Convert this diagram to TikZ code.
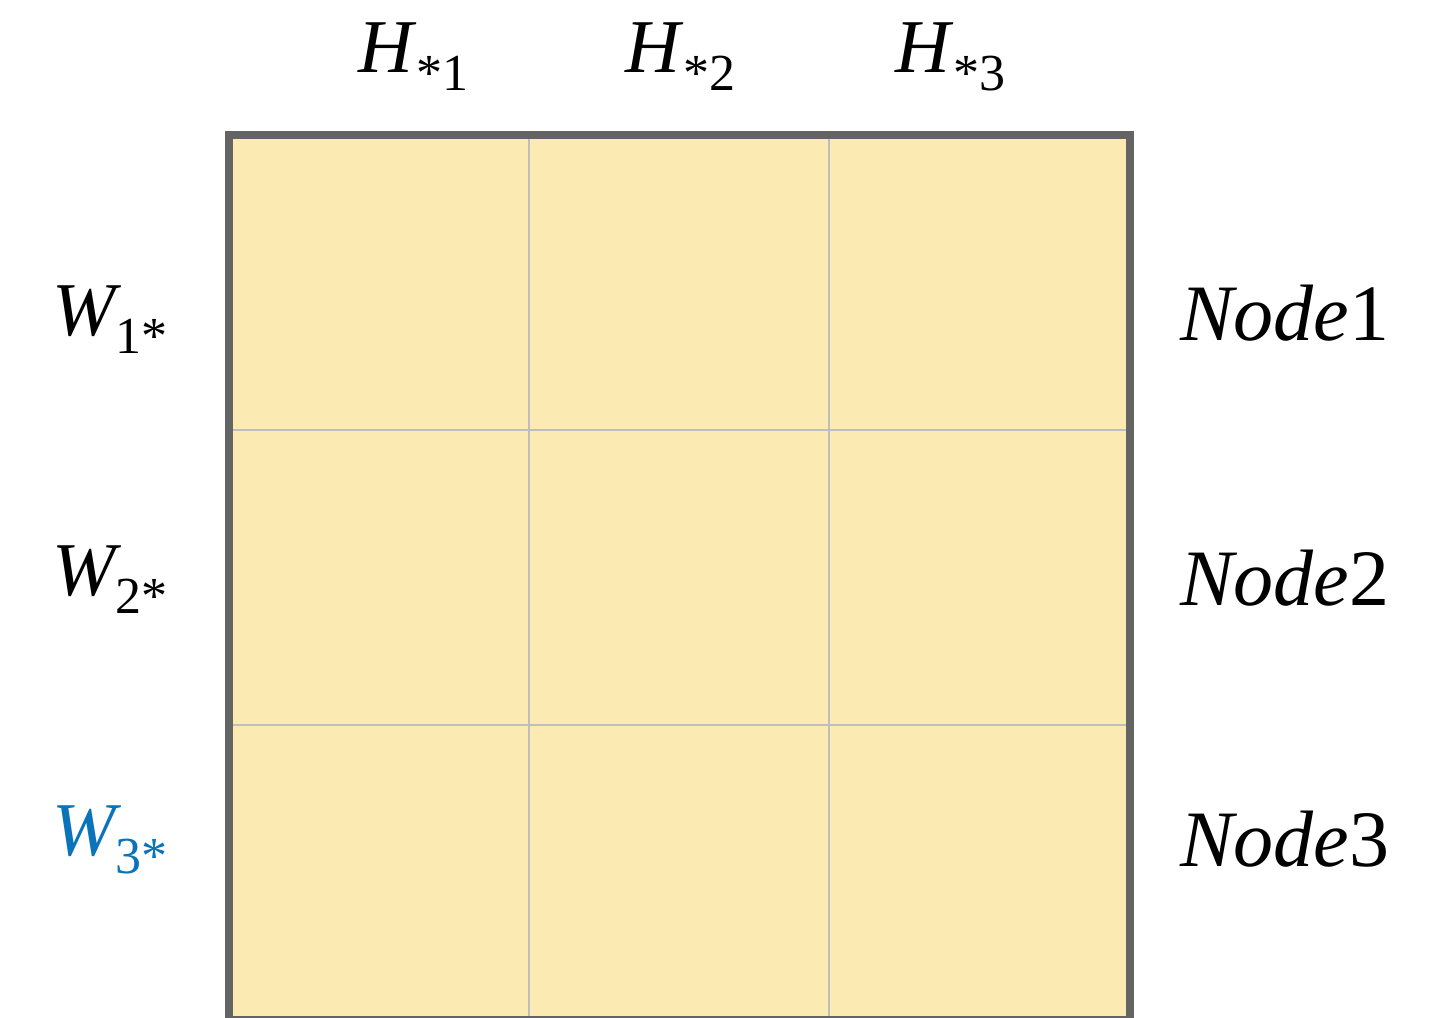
\documentclass[tikz,border=0pt]{standalone}
\usepackage{fontspec}
\setmainfont{Liberation Serif}
\definecolor{cellfill}{RGB}{252,234,179}
\definecolor{frame}{RGB}{100,100,100}
\definecolor{gridc}{RGB}{190,190,190}
\definecolor{wblue}{RGB}{10,115,185}
\newcommand\mysub[1]{\raisebox{-14pt}{\fontsize{39}{39}\selectfont #1}}
\newcommand\mainsz{\fontsize{57}{57}\selectfont}
\tikzset{lbl/.style={anchor=base west,inner sep=0pt,font=\mainsz},
  nlbl/.style={anchor=base west,inner sep=0pt,font=\fontsize{60}{60}\selectfont}}
\begin{document}
\begin{tikzpicture}[x=0.75pt,y=-0.75pt]
\useasboundingbox (0,0) rectangle (1445,1017);
\begin{scope}
\clip (0,0) rectangle (1445,1017);
\fill[cellfill] (229,135) rectangle (1130,1020);
\foreach \x in {529,829} \draw[gridc,line width=1.5pt] (\x,135) -- (\x,1020);
\foreach \y in {430,725} \draw[gridc,line width=1.5pt] (229,\y) -- (1130,\y);
\draw[frame,line width=6pt] (229,135) rectangle (1130,1020);
\end{scope}
\node[lbl] (h1) at (358,72) {\textit{H}\mysub{*1}};
\node[lbl] (h2) at (625,72) {\textit{H}\mysub{*2}};
\node[lbl] (h3) at (895,72) {\textit{H}\mysub{*3}};
\node[lbl] (w1) at (52,335) {\textit{W}\kern-4pt\mysub{1*}};
\node[lbl] (w2) at (52,595) {\textit{W}\kern-4pt\mysub{2*}};
\node[lbl,text=wblue] (w3) at (52,855) {\textit{W}\kern-4pt\mysub{3*}};
\node[nlbl] (n1) at (1180,340) {\textit{Node}1};
\node[nlbl] (n2) at (1180,605) {\textit{Node}2};
\node[nlbl] (n3) at (1180,866) {\textit{Node}3};
\end{tikzpicture}
\end{document}
